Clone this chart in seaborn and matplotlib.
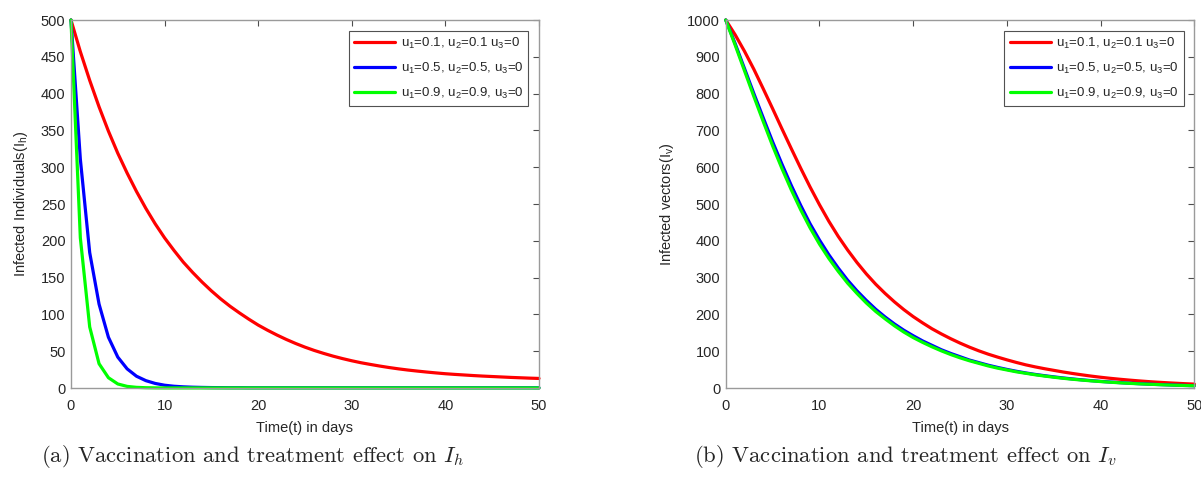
import numpy as np
import pandas as pd
import seaborn as sns
import matplotlib
matplotlib.use("Agg")
import matplotlib.pyplot as plt

# time in days (one value per day)
days = list(range(0, 51))

labels = [r"u$_{\mathregular{1}}$=0.1, u$_{\mathregular{2}}$=0.1 u$_{\mathregular{3}}$=0",
          r"u$_{\mathregular{1}}$=0.5, u$_{\mathregular{2}}$=0.5, u$_{\mathregular{3}}$=0",
          r"u$_{\mathregular{1}}$=0.9, u$_{\mathregular{2}}$=0.9, u$_{\mathregular{3}}$=0"]
colors = ["#ff0000", "#0000ff", "#00ff00"]

# infected individuals Ih
ih_low = [500, 457, 418, 382, 349, 319, 292, 267, 244, 223,
          204, 187, 171, 157, 144, 132, 121, 111, 102, 93.5,
          85.5, 78.5, 72, 66, 60.5, 55.5, 51, 47, 43.3, 40,
          37, 34.3, 32, 29.8, 27.8, 26, 24.4, 23, 21.7, 20.5,
          19.4, 18.5, 17.7, 16.9, 16.2, 15.6, 15, 14.4, 13.9, 13.4, 13]
ih_mid = [500, 311, 184, 114, 69, 42, 26, 16, 10, 6.2,
          3.8, 2.4, 1.6, 1.1, 0.8, 0.6, 0.5, 0.4, 0.4, 0.3,
          0.3, 0.3, 0.3, 0.3, 0.3, 0.3, 0.3, 0.3, 0.3, 0.3,
          0.3, 0.3, 0.3, 0.3, 0.3, 0.3, 0.3, 0.3, 0.3, 0.3,
          0.3, 0.3, 0.3, 0.3, 0.3, 0.3, 0.3, 0.3, 0.3, 0.3, 0.3]
ih_high = [500, 204, 83, 33, 14, 5.5, 2.2, 0.9, 0.4, 0.2,
           0.1, 0.1, 0.1, 0.1, 0.1, 0.1, 0.1, 0.1, 0.1, 0.1,
           0.1, 0.1, 0.1, 0.1, 0.1, 0.1, 0.1, 0.1, 0.1, 0.1,
           0.1, 0.1, 0.1, 0.1, 0.1, 0.1, 0.1, 0.1, 0.1, 0.1,
           0.1, 0.1, 0.1, 0.1, 0.1, 0.1, 0.1, 0.1, 0.1, 0.1, 0.1]

# infected vectors Iv
iv_low = [1000, 960, 915, 866, 813, 759, 704, 650, 597, 546,
          498, 453, 412, 375, 341, 310, 282, 257, 234, 213,
          194, 177, 161, 147, 134, 122, 111, 101, 92, 84,
          76.5, 69.5, 63, 57.5, 52.5, 48, 43.5, 39.5, 35.8, 32.3,
          29.2, 26.4, 23.9, 21.6, 19.5, 17.6, 15.9, 14.4, 13, 11.7, 10.6]
iv_mid = [1000, 936, 868, 800, 734, 669, 608, 550, 496, 446,
          402, 362, 326, 293, 264, 238, 214, 193, 174, 157,
          142, 128, 116, 104, 94, 85, 76, 69, 62, 56,
          50.5, 45.5, 41, 37, 33.5, 30.3, 27.3, 24.6, 22.2, 20,
          18, 16.3, 14.7, 13.2, 11.9, 10.7, 9.6, 8.7, 7.8, 7, 6.3]
iv_high = [1000, 932, 862, 792, 724, 658, 596, 538, 484, 435,
           391, 352, 317, 285, 257, 231, 208, 188, 169, 152,
           137, 124, 112, 101, 91, 82, 74, 67, 60, 54,
           49, 44, 40, 36, 32.5, 29.3, 26.4, 23.8, 21.5, 19.4,
           17.5, 15.8, 14.2, 12.8, 11.5, 10.4, 9.4, 8.4, 7.6, 6.8, 6.1]

captions = [r"(a) Vaccination and treatment effect on $I_h$",
            r"(b) Vaccination and treatment effect on $I_v$"]
ylabels = [r"Infected Individuals(I$_{\mathregular{h}}$)",
           r"Infected vectors(I$_{\mathregular{v}}$)"]


def long_df(series):
    frames = []
    for lab, vals in zip(labels, series):
        frames.append(pd.DataFrame({"t": days, "val": vals, "case": lab}))
    return pd.concat(frames, ignore_index=True)


sns.set_style("white")
plt.rcParams["font.family"] = ["Liberation Sans", "DejaVu Sans"]
plt.rcParams["mathtext.fontset"] = "custom"
plt.rcParams["mathtext.rm"] = "Liberation Sans"
plt.rcParams["mathtext.it"] = "Liberation Sans:italic"

fig = plt.figure(figsize=(12.01, 4.82), dpi=100)
ax1 = fig.add_axes([0.0591, 0.195, 0.3897, 0.7635])
ax2 = fig.add_axes([0.6043, 0.195, 0.3902, 0.7635])

panels = [(ax1, [ih_low, ih_mid, ih_high], 500, 50),
          (ax2, [iv_low, iv_mid, iv_high], 1000, 100)]

for i, (ax, series, ymax, ystep) in enumerate(panels):
    df = long_df(series)
    sns.lineplot(data=df, x="t", y="val", hue="case", palette=colors,
                 linewidth=2.3, legend=False, ax=ax)
    for ln in ax.get_lines():
        ln.set_clip_on(False)
    ax.set_xlim(0, 50)
    ax.set_ylim(0, ymax)
    ax.set_xticks(range(0, 51, 10))
    ax.set_yticks(np.arange(0, ymax + 1, ystep))
    ax.tick_params(direction="in", length=4, width=0.8, top=True, right=True,
                   labelsize=10.5, colors="#4d4d4d", labelcolor="#262626", pad=4)
    ax.tick_params(axis="x", pad=8)
    for sp in ax.spines.values():
        sp.set_color("#9a9a9a")
        sp.set_linewidth(1.0)
    ax.set_xlabel("Time(t) in days", fontsize=10.5, color="#262626", labelpad=6)
    ax.set_ylabel(ylabels[i], fontsize=10.5, color="#262626", labelpad=8)
    leg = ax.legend(handles=ax.get_lines()[:3], labels=labels, loc="upper right",
                    fontsize=9.5, frameon=True, fancybox=False, handlelength=3.1,
                    borderaxespad=0.8, labelspacing=0.75, handletextpad=0.4,
                    borderpad=0.4)
    leg.get_frame().set_edgecolor("#262626")
    leg.get_frame().set_linewidth(0.8)

fig.text(0.2107, 0.052, captions[0], ha="center", va="center", fontsize=16.3,
         family="cmr10", math_fontfamily="cm")
fig.text(0.7544, 0.052, captions[1], ha="center", va="center", fontsize=16.3,
         family="cmr10", math_fontfamily="cm")

fig.savefig("out.png", dpi=100, facecolor="white")
